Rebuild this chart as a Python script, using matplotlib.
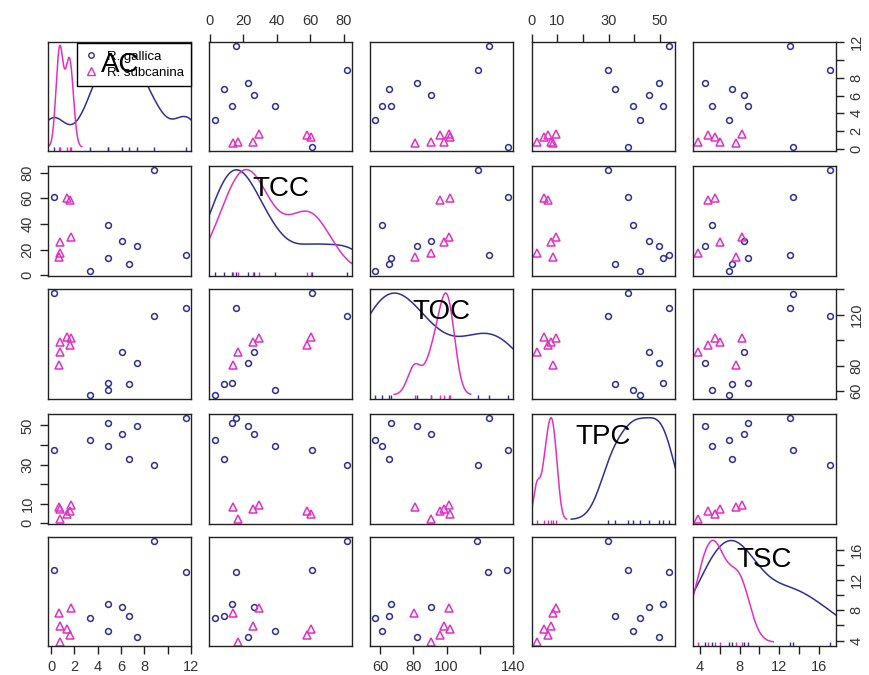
import numpy as np
import matplotlib
matplotlib.use("Agg")
import matplotlib.pyplot as plt
from matplotlib.lines import Line2D

plt.rcParams['font.family'] = ['Liberation Sans', 'DejaVu Sans']

variables = ["AC", "TCC", "TOC", "TPC", "TSC"]
groups = ["R. gallica", "R. subcanina"]

# R. gallica (blue circles)
gallica_AC = [0.22, 8.86, 11.57, 4.86, 6.09, 6.71, 3.31, 4.86, 7.40]
gallica_TCC = [61.1, 82.0, 15.9, 13.2, 26.5, 8.7, 3.0, 38.8, 23.0]
gallica_TOC = [136.3, 118.6, 125.2, 66.3, 90.3, 65.2, 57.0, 61.0, 82.2]
gallica_TPC = [37.5, 29.9, 53.8, 51.3, 45.8, 32.7, 42.4, 39.7, 49.6]
gallica_TSC = [13.35, 17.17, 13.08, 8.81, 8.45, 7.24, 6.92, 5.26, 4.49]

# R. subcanina (magenta triangles)
subcanina_AC = [0.66, 1.74, 0.74, 1.37, 1.60, 0.80]
subcanina_TCC = [14.0, 29.5, 25.8, 60.5, 58.3, 17.0]
subcanina_TOC = [80.6, 101.3, 98.4, 101.8, 95.8, 90.5]
subcanina_TPC = [8.2, 9.6, 7.4, 4.8, 6.3, 2.0]
subcanina_TSC = [7.60, 8.27, 5.98, 5.48, 4.80, 3.80]

# axis ticks and their labels (R drops overlapping labels)
ticks = {
    "AC": [0, 2, 4, 6, 8, 10, 12],
    "TCC": [0, 20, 40, 60, 80],
    "TOC": [60, 80, 100, 120, 140],
    "TPC": [0, 10, 20, 30, 40, 50],
    "TSC": [4, 6, 8, 10, 12, 14, 16],
}
x_tick_labels = {
    "AC": ["0", "2", "4", "6", "8", "", "12"],
    "TCC": ["0", "20", "40", "60", "80"],
    "TOC": ["60", "80", "100", "", "140"],
    "TPC": ["0", "10", "", "30", "", "50"],
    "TSC": ["4", "", "8", "", "12", "", "16"],
}
y_tick_labels = {
    "AC": ["0", "2", "4", "6", "8", "", "12"],
    "TCC": ["0", "20", "40", "60", "80"],
    "TOC": ["60", "80", "", "120", ""],
    "TPC": ["0", "10", "", "30", "", "50"],
    "TSC": ["4", "", "8", "", "12", "", "16"],
}

data = {
    "R. gallica": {"AC": gallica_AC, "TCC": gallica_TCC, "TOC": gallica_TOC,
                   "TPC": gallica_TPC, "TSC": gallica_TSC},
    "R. subcanina": {"AC": subcanina_AC, "TCC": subcanina_TCC, "TOC": subcanina_TOC,
                     "TPC": subcanina_TPC, "TSC": subcanina_TSC},
}
colors = {"R. gallica": "#2e2e9e", "R. subcanina": "#e030c4"}
markers = {"R. gallica": "o", "R. subcanina": "^"}
msizes = {"R. gallica": 4.2, "R. subcanina": 6.0}


def allvals(v):
    return np.array(data[groups[0]][v] + data[groups[1]][v], dtype=float)


def limits(v):
    a = allvals(v)
    r = a.max() - a.min()
    return a.min() - 0.04 * r, a.max() + 0.04 * r


def kde(x):
    x = np.asarray(x, dtype=float)
    n = len(x)
    sd = x.std(ddof=1)
    q75, q25 = np.percentile(x, [75, 25])
    lo = min(sd, (q75 - q25) / 1.34)
    if lo <= 0:
        lo = sd
    bw = 0.9 * lo * n ** -0.2
    grid = np.linspace(x.min() - 3 * bw, x.max() + 3 * bw, 512)
    d = np.exp(-0.5 * ((grid[:, None] - x[None, :]) / bw) ** 2).sum(1) / (n * bw * np.sqrt(2 * np.pi))
    return grid, d


W, H = 870, 675
fig = plt.figure(figsize=(8.7, 6.75), dpi=100)
col_left = [48.3, 209.3, 370.0, 531.7, 692.7]
row_top = [41.7, 166.0, 289.3, 414.0, 536.7]
pw, ph = 143.0, 109.5
tick_color = "#333333"

for i, vy in enumerate(variables):
    for j, vx in enumerate(variables):
        ax = fig.add_axes([col_left[j] / W, 1 - (row_top[i] + ph) / H, pw / W, ph / H])
        xl = limits(vx)
        yl = limits(vy)
        ax.set_xlim(*xl)
        ax.set_ylim(*yl)
        for sp in ax.spines.values():
            sp.set_linewidth(1.0)
            sp.set_color("#222222")
        if i == j:
            a = allvals(vx)
            for g in groups:
                gx, d = kde(data[g][vx])
                yy = a.min() + d * (a.max() - a.min()) / (d.max() - d.min())
                ax.plot(gx, yy, color=colors[g], lw=1.1)
                ax.vlines(data[g][vx], 0, 0.035, transform=ax.get_xaxis_transform(),
                          color=colors[g], lw=1.0)
            ax.text(0.5, 0.79, vx, transform=ax.transAxes, ha="center", va="center",
                    fontsize=20, color="black", zorder=10)
            if i == 0:
                handles = [Line2D([], [], ls="none", marker=markers[g], mfc="none",
                                  mec=colors[g], ms=msizes[g] - 0.3, mew=1.0) for g in groups]
                leg = ax.legend(handles, groups, loc="upper right", bbox_to_anchor=(1.0, 0.985),
                                fontsize=9.5, frameon=True, fancybox=False, framealpha=1,
                                edgecolor="black", handlelength=1.0, handletextpad=0.7,
                                borderpad=0.55, labelspacing=0.3, borderaxespad=0)
                leg.get_frame().set_linewidth(1.0)
                leg.set_zorder(5)
        else:
            for g in groups:
                ax.plot(data[g][vx], data[g][vy], ls="none", marker=markers[g], mfc="none",
                        mec=colors[g], ms=msizes[g], mew=1.1)
        # axes on alternating sides like R pairs
        ax.set_xticks([])
        ax.set_yticks([])
        if i == 0 and j % 2 == 1:
            ax.xaxis.tick_top()
            ax.set_xticks(ticks[vx])
            ax.set_xticklabels(x_tick_labels[vx])
        if i == 4 and j % 2 == 0:
            ax.set_xticks(ticks[vx])
            ax.set_xticklabels(x_tick_labels[vx])
        if j == 0 and i % 2 == 1:
            ax.set_yticks(ticks[vy])
            ax.set_yticklabels(y_tick_labels[vy], rotation=90, va="center")
        if j == 4 and i % 2 == 0:
            ax.yaxis.tick_right()
            ax.set_yticks(ticks[vy])
            ax.set_yticklabels(y_tick_labels[vy], rotation=90, va="center")
        ax.tick_params(axis="both", length=6, width=1.0, pad=4, labelsize=10.5,
                       colors="#222222", labelcolor=tick_color)

fig.savefig("out.png", dpi=100, facecolor="white")
